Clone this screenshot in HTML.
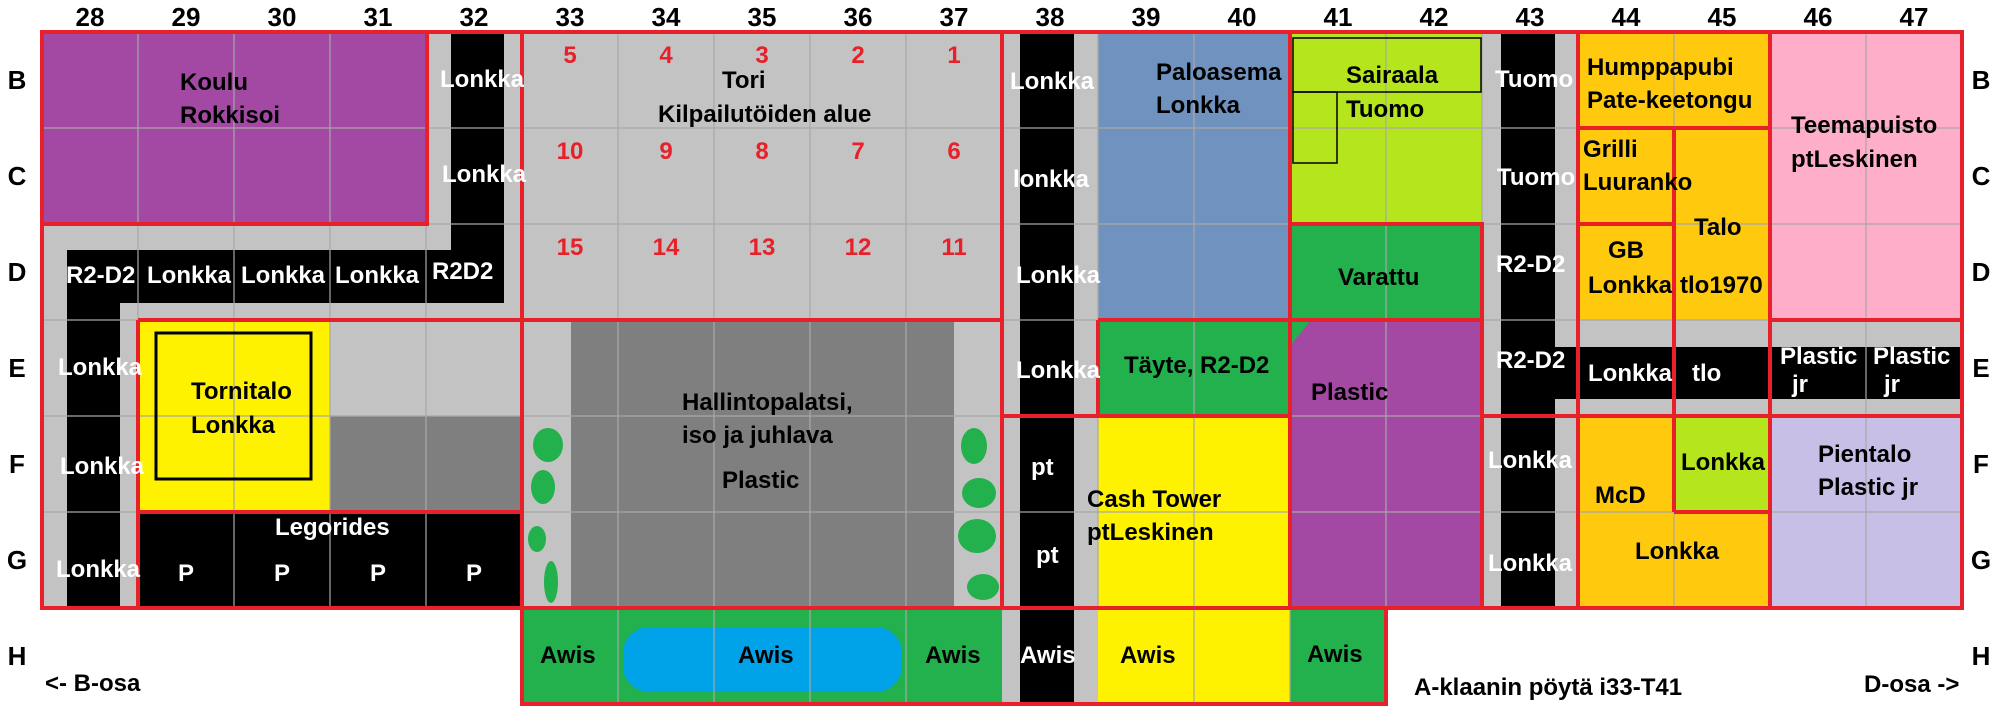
<!DOCTYPE html>
<html><head><meta charset="utf-8"><style>
html,body{margin:0;padding:0;background:#fff;}
svg{display:block;}
text{font-family:"Liberation Sans",Arial,sans-serif;font-weight:bold;font-size:24px;}
#labels text{font-size:26px;}
.w{fill:#fff;} .k{fill:#000;} .r{fill:#e8202a;}
</style></head><body>
<svg id="map" width="2000" height="720" viewBox="0 0 2000 720" xmlns="http://www.w3.org/2000/svg">
<g id="fills">
<rect x="42" y="32" width="1920" height="576" fill="#c3c3c3"/>
<rect x="42" y="32" width="385" height="192" fill="#a349a4"/>
<rect x="451" y="32" width="53" height="271" fill="#000"/>
<rect x="67" y="250" width="437" height="53" fill="#000"/>
<rect x="67" y="250" width="53" height="358" fill="#000"/>
<rect x="138" y="320" width="192" height="192" fill="#fff200"/>
<rect x="330" y="416" width="192" height="96" fill="#7f7f7f"/>
<rect x="138" y="512" width="384" height="96" fill="#000"/>
<rect x="571" y="320" width="383" height="288" fill="#7f7f7f"/>
<rect x="522" y="608" width="480" height="96" fill="#22b14c"/>
<rect x="623" y="627" width="279" height="65" rx="26" fill="#00a2e8"/>
<rect x="1002" y="608" width="96" height="96" fill="#c3c3c3"/>
<rect x="1020" y="32" width="54" height="672" fill="#000"/>
<rect x="1098" y="32" width="192" height="288" fill="#7092be"/>
<rect x="1098" y="320" width="192" height="96" fill="#22b14c"/>
<rect x="1098" y="416" width="192" height="288" fill="#fff200"/>
<rect x="1290" y="32" width="192" height="192" fill="#b5e61d"/>
<rect x="1290" y="224" width="192" height="96" fill="#22b14c"/>
<rect x="1290" y="320" width="192" height="288" fill="#a349a4"/>
<polygon points="1290,320 1311,320 1290,346" fill="#22b14c"/>
<rect x="1290" y="608" width="96" height="96" fill="#22b14c"/>
<rect x="1501" y="32" width="54" height="576" fill="#000"/>
<rect x="1555" y="347" width="407" height="52" fill="#000"/>
<rect x="1578" y="32" width="192" height="96" fill="#ffc90e"/>
<rect x="1578" y="128" width="96" height="192" fill="#ffc90e"/>
<rect x="1674" y="128" width="96" height="192" fill="#ffc90e"/>
<rect x="1578" y="416" width="192" height="192" fill="#ffc90e"/>
<rect x="1674" y="416" width="96" height="96" fill="#b5e61d"/>
<rect x="1770" y="32" width="192" height="288" fill="#ffaec9"/>
<rect x="1770" y="416" width="192" height="192" fill="#c8bfe7"/>
</g>
<g id="grid"></g>
<g id="trees" fill="#22b14c">
<ellipse cx="548" cy="445" rx="15" ry="17"/>
<ellipse cx="543" cy="487" rx="12" ry="17"/>
<ellipse cx="537" cy="539" rx="9" ry="13"/>
<ellipse cx="551" cy="582" rx="7" ry="21"/>
<ellipse cx="974" cy="446" rx="13" ry="18"/>
<ellipse cx="979" cy="493" rx="17" ry="15"/>
<ellipse cx="977" cy="536" rx="19" ry="17"/>
<ellipse cx="983" cy="587" rx="16" ry="13"/>
</g>
<g fill="none" stroke="#000" stroke-width="3">
<rect x="156" y="333" width="155" height="146"/>
<rect x="1293" y="38" width="188" height="54" stroke-width="1.5"/>
<rect x="1293" y="92" width="44" height="71" stroke-width="1.5"/>
</g>
<g id="red" stroke="#e8202a" stroke-width="4" fill="none">
<path d="M42 32H1962V608H42Z M42 224H427V32 M522 32V704H1386V608 M138 320H1002 M138 320V608 M138 512H522 M1002 32V608 M1002 416H1290 M1098 320V416H1290 M1098 320H1290 M1290 32V608 M1290 224H1482V608 M1290 320H1482 M1578 32V608 M1578 128H1770 M1674 128V512 M1578 224H1674 M1770 32V608 M1770 320H1962 M1482 416H1962 M1674 512H1770"/>
</g>
<g id="labels"></g>
<g id="txt">
<text x="180" y="90" class="k">Koulu</text>
<text x="180" y="123" class="k">Rokkisoi</text>
<text x="440" y="87" class="w">Lonkka</text>
<text x="442" y="182" class="w">Lonkka</text>
<text x="66" y="283" class="w">R2-D2</text>
<text x="147" y="283" class="w">Lonkka</text>
<text x="241" y="283" class="w">Lonkka</text>
<text x="335" y="283" class="w">Lonkka</text>
<text x="432" y="279" class="w">R2D2</text>
<text x="58" y="375" class="w">Lonkka</text>
<text x="60" y="474" class="w">Lonkka</text>
<text x="56" y="577" class="w">Lonkka</text>
<text x="191" y="399" class="k">Tornitalo</text>
<text x="191" y="433" class="k">Lonkka</text>
<text x="275" y="535" class="w">Legorides</text>
<text x="186" y="581" class="w" text-anchor="middle">P</text>
<text x="282" y="581" class="w" text-anchor="middle">P</text>
<text x="378" y="581" class="w" text-anchor="middle">P</text>
<text x="474" y="581" class="w" text-anchor="middle">P</text>
<text x="45" y="691" class="k">&lt;- B-osa</text>
<text x="722" y="88" class="k">Tori</text>
<text x="658" y="122" class="k">Kilpailutöiden alue</text>
<text x="682" y="410" class="k">Hallintopalatsi,</text>
<text x="682" y="443" class="k">iso ja juhlava</text>
<text x="722" y="488" class="k">Plastic</text>
<text x="540" y="663" class="k">Awis</text>
<text x="738" y="663" class="k">Awis</text>
<text x="925" y="663" class="k">Awis</text>
<text x="1020" y="663" class="w">Awis</text>
<text x="1120" y="663" class="k">Awis</text>
<text x="1307" y="662" class="k">Awis</text>
<text x="1010" y="89" class="w">Lonkka</text>
<text x="1013" y="187" class="w">lonkka</text>
<text x="1016" y="283" class="w">Lonkka</text>
<text x="1016" y="378" class="w">Lonkka</text>
<text x="1031" y="475" class="w">pt</text>
<text x="1036" y="563" class="w">pt</text>
<text x="1156" y="80" class="k">Paloasema</text>
<text x="1156" y="113" class="k">Lonkka</text>
<text x="1124" y="373" class="k">Täyte, R2-D2</text>
<text x="1087" y="507" class="k">Cash Tower</text>
<text x="1087" y="540" class="k">ptLeskinen</text>
<text x="1346" y="83" class="k">Sairaala</text>
<text x="1346" y="117" class="k">Tuomo</text>
<text x="1338" y="285" class="k">Varattu</text>
<text x="1311" y="400" class="k">Plastic</text>
<text x="1495" y="87" class="w">Tuomo</text>
<text x="1497" y="185" class="w">Tuomo</text>
<text x="1496" y="272" class="w">R2-D2</text>
<text x="1496" y="368" class="w">R2-D2</text>
<text x="1488" y="468" class="w">Lonkka</text>
<text x="1488" y="571" class="w">Lonkka</text>
<text x="1587" y="75" class="k">Humppapubi</text>
<text x="1587" y="108" class="k">Pate-keetongu</text>
<text x="1583" y="157" class="k">Grilli</text>
<text x="1583" y="190" class="k">Luuranko</text>
<text x="1694" y="235" class="k">Talo</text>
<text x="1680" y="293" class="k">tlo1970</text>
<text x="1608" y="258" class="k">GB</text>
<text x="1588" y="293" class="k">Lonkka</text>
<text x="1588" y="381" class="w">Lonkka</text>
<text x="1692" y="381" class="w">tlo</text>
<text x="1780" y="364" class="w">Plastic</text>
<text x="1792" y="392" class="w">jr</text>
<text x="1873" y="364" class="w">Plastic</text>
<text x="1884" y="392" class="w">jr</text>
<text x="1791" y="133" class="k">Teemapuisto</text>
<text x="1791" y="167" class="k">ptLeskinen</text>
<text x="1595" y="503" class="k">McD</text>
<text x="1681" y="470" class="k">Lonkka</text>
<text x="1635" y="559" class="k">Lonkka</text>
<text x="1818" y="462" class="k">Pientalo</text>
<text x="1818" y="495" class="k">Plastic jr</text>
<text x="1414" y="695" class="k">A-klaanin pöytä i33-T41</text>
<text x="1864" y="692" class="k">D-osa -&gt;</text>
</g>
<g id="nums"></g>
</svg>
<script>
const columns = ["28","29","30","31","32","33","34","35","36","37","38","39","40","41","42","43","44","45","46","47"];
const rows = ["B","C","D","E","F","G","H"];
const toriNumbers = [[5,4,3,2,1],[10,9,8,7,6],[15,14,13,12,11]];
const NS = "http://www.w3.org/2000/svg";
const X0 = 42, Y0 = 32, C = 96;
function xs(i){ return X0 + i*C; }
function ys(j){ return Y0 + j*C; }
function mk(tag, attrs, parent){
  const e = document.createElementNS(NS, tag);
  for (const k in attrs) e.setAttribute(k, attrs[k]);
  parent.appendChild(e); return e;
}
const grid = document.getElementById('grid');
for (let i = 1; i < columns.length; i++) {
  const l = mk('line', {x1: xs(i), x2: xs(i), y1: Y0, y2: ys(6), stroke: '#a8a8a8', 'stroke-width': 1.2}, grid);
  
  
  if (i >= 5 && i < 14 && i !== 10 && i !== 11) {
    const h = mk('line', {x1: xs(i), x2: xs(i), y1: ys(6), y2: ys(7), stroke: '#a8a8a8', 'stroke-width': 1.2}, grid);
    
    
  }
}
for (let j = 1; j < 6; j++) {
  const l = mk('line', {x1: X0, x2: xs(20), y1: ys(j), y2: ys(j), stroke: '#a8a8a8', 'stroke-width': 1.2}, grid);
  
  
}
const lab = document.getElementById('labels');
columns.forEach((c, i) => {
  const t = mk('text', {x: xs(i) + C/2, y: 26, 'text-anchor': 'middle', class: 'k'}, lab);
  t.textContent = c;
  
  
});
rows.forEach((r, j) => {
  const yb = ys(j) + C/2 + 9;
  const a = mk('text', {x: 17, y: yb, 'text-anchor': 'middle', class: 'k'}, lab);
  a.textContent = r;
  
  
  const b = mk('text', {x: 1981, y: yb, 'text-anchor': 'middle', class: 'k'}, lab);
  b.textContent = r;
  
  
});
const nums = document.getElementById('nums');
toriNumbers.forEach((row, j) => {
  row.forEach((n, i) => {
    const t = mk('text', {x: xs(5 + i) + C/2, y: ys(j) + 31, 'text-anchor': 'middle', class: 'r'}, nums);
    t.textContent = n;
    
    
  });
});
</script>
</body></html>
